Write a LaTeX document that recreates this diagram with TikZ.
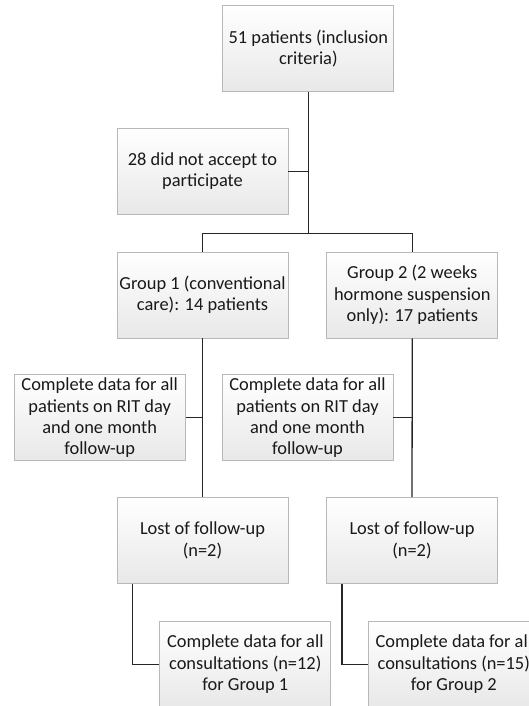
\documentclass[tikz,border=0pt]{standalone}
\usepackage{fontspec}
\setmainfont{Carlito}
\usepackage{xcolor}
\usetikzlibrary{positioning}

\tikzset{
  box/.style={draw=black!28, top color=white, bottom color=black!9, line width=0.8pt,
    minimum width=171pt, minimum height=86pt, inner sep=2pt, align=center,
    text=black!90, font=\fontsize{18.4}{21.3}\selectfont},
  link/.style={draw=black!85, line width=1.3pt}
}

\begin{document}
\begin{tikzpicture}[x=1pt, y=1pt]
    \useasboundingbox (0,0) rectangle (529,-706);
    \clip (0,0) rectangle (529,-706);

    \node[box] (g1) at (202.5,-295) {Group 1 (conventional\\care): 14 patients};
    \node[box, right=38pt of g1] (g2) {Group 2 (2 weeks\\hormone suspension\\only): 17 patients};
    \node[box, above=37pt of g1] (decl) {28 did not accept to\\participate};
    \node[box, above right=36pt and -66pt of decl] (incl) {51 patients (inclusion\\criteria)};

    \node[box, below left=36pt and -69pt of g1] (rit1) {Complete data for all\\patients on RIT day\\and one month\\follow-up};
    \node[box, below left=36pt and -67pt of g2] (rit2) {Complete data for all\\patients on RIT day\\and one month\\follow-up};

    \node[box] (lost1) at (202.5,-540.5) {Lost of follow-up\\(n=2)};
    \node[box] (lost2) at (412,-540.5) {Lost of follow-up\\(n=2)};

    \node[box, below right=37pt and -129pt of lost1] (fin1) {Complete data for all\\consultations (n=12)\\for Group 1};
    \node[box, below right=37pt and -130pt of lost2] (fin2) {Complete data for all\\consultations (n=15)\\for Group 2};

    % trunk and split
    \draw[link] (incl.south) -- ++(0,-142) coordinate (split);
    \draw[link] (decl.east) -- (decl.east -| split);
    \draw[link] (g1.north) |- (split) -| (g2.north);

    % groups down to losses
    \draw[link] (g1.south) -- (lost1.north);
    \draw[link] (g2.south) -- (lost2.north);
    \draw[link] (rit1.east) -- (rit1.east -| g1.south);
    \draw[link] (rit2.east) -- (rit2.east -| g2.south);

    \draw[link] ([xshift=16pt]lost1.south west) |- (fin1.west);
    \draw[link] ([xshift=16pt]lost2.south west) |- (fin2.west);

\end{tikzpicture}
\end{document}
